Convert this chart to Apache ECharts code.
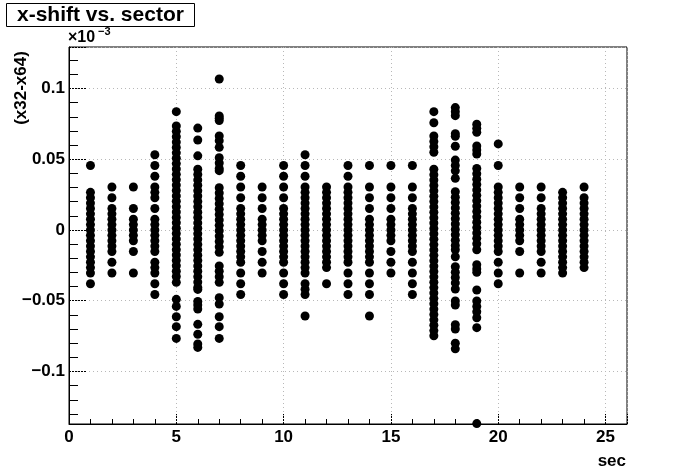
<!DOCTYPE html>
<html>
<head>
<meta charset="utf-8">
<script src="https://cdn.jsdelivr.net/npm/echarts@6.0.0/dist/echarts.min.js"></script>
<style>
html,body{margin:0;padding:0;background:#fff;}
#chart{width:696px;height:472px;}
</style>
</head>
<body>
<div id="chart"></div>
<script>
// sector numbers (x) and x-shift values (y, in units of 1e-3)
const sectors = [1,2,3,4,5,6,7,8,9,10,11,12,13,14,15,16,17,18,19,20,21,22,23,24];
const sec1 = [0.0456,0.0266,0.0228,0.019,0.0152,0.0114,0.0076,0.0038,0,-0.0038,-0.0076,-0.0114,-0.0152,-0.019,-0.0228,-0.0266,-0.0304,-0.038];
const sec2 = [0.0304,0.0228,0.0152,0.0114,0.0076,0.0038,0,-0.0038,-0.0076,-0.0114,-0.0152,-0.0228,-0.0304];
const sec3 = [0.0304,0.0152,0.0076,0.0038,0,-0.0038,-0.0076,-0.0152,-0.0304];
const sec4 = [0.0532,0.0456,0.038,0.0304,0.0266,0.0228,0.0152,0.0076,0.0038,0,-0.0038,-0.0076,-0.0114,-0.0152,-0.0228,-0.0266,-0.0304,-0.038,-0.0456];
const sec5 = [0.0836,0.0735,0.0697,0.0659,0.0621,0.0583,0.0545,0.0507,0.0469,0.0431,0.0393,0.0355,0.0317,0.0279,0.0241,0.0203,0.0165,0.0127,0.0089,0.0051,0.0013,-0.0025,-0.0063,-0.0101,-0.0139,-0.0177,-0.0215,-0.0253,-0.0291,-0.0329,-0.037,-0.049,-0.054,-0.0613,-0.0683,-0.0766];
const sec6 = [0.072,0.0636,0.0524,0.043,0.0392,0.0354,0.0316,0.0278,0.024,0.0202,0.0164,0.0126,0.0088,0.005,0.0012,-0.0026,-0.0064,-0.0102,-0.014,-0.0178,-0.0216,-0.0254,-0.0292,-0.033,-0.0368,-0.0406,-0.042,-0.0505,-0.053,-0.0558,-0.0667,-0.0737,-0.0805,-0.083];
const sec7 = [0.1067,0.0806,0.079,0.0773,0.0664,0.0631,0.0584,0.0511,0.0473,0.0435,0.0419,0.0299,0.0261,0.0223,0.0185,0.0147,0.0109,0.0071,0.0033,-0.0005,-0.0043,-0.0081,-0.0119,-0.0158,-0.0254,-0.0292,-0.033,-0.037,-0.0478,-0.0523,-0.0613,-0.0683,-0.0766];
const sec8 = [0.0456,0.038,0.0304,0.0228,0.0152,0.0114,0.0076,0.0038,0,-0.0038,-0.0076,-0.0114,-0.0152,-0.019,-0.0228,-0.0304,-0.038,-0.0456];
const sec9 = [0.0304,0.0228,0.0152,0.0076,0.0038,0,-0.0038,-0.0076,-0.0152,-0.0228,-0.0304];
const sec10 = [0.0456,0.038,0.0304,0.0228,0.0152,0.0114,0.0076,0.0038,0,-0.0038,-0.0076,-0.0114,-0.0152,-0.019,-0.0228,-0.0304,-0.038,-0.0456];
const sec11 = [0.0532,0.0456,0.038,0.0304,0.0266,0.0228,0.019,0.0152,0.0114,0.0076,0.0038,0,-0.0038,-0.0076,-0.0114,-0.0152,-0.019,-0.0228,-0.0266,-0.0304,-0.038,-0.0418,-0.0456,-0.0608];
const sec12 = [0.0304,0.0266,0.0228,0.019,0.0152,0.0114,0.0076,0.0038,0,-0.0038,-0.0076,-0.0114,-0.0152,-0.019,-0.0228,-0.0266,-0.038];
const sec13 = [0.0456,0.038,0.0304,0.0266,0.0228,0.019,0.0152,0.0114,0.0076,0.0038,0,-0.0038,-0.0076,-0.0114,-0.0152,-0.019,-0.0228,-0.0304,-0.038,-0.0456];
const sec14 = [0.0456,0.0304,0.0228,0.0152,0.0076,0.0038,0,-0.0038,-0.0076,-0.0114,-0.0152,-0.019,-0.0228,-0.0304,-0.038,-0.0456,-0.0608];
const sec15 = [0.0456,0.0304,0.0228,0.0152,0.0076,0.0038,0,-0.0038,-0.0076,-0.0152,-0.0228,-0.0304];
const sec16 = [0.0456,0.0304,0.0228,0.0152,0.0114,0.0076,0.0038,0,-0.0038,-0.0076,-0.0114,-0.0152,-0.0228,-0.0304,-0.038,-0.0456];
const sec17 = [0.0836,0.0758,0.0664,0.0626,0.0588,0.0549,0.0429,0.0391,0.0353,0.0315,0.0277,0.0239,0.0201,0.0163,0.0125,0.0087,0.0049,0.0011,-0.0027,-0.0065,-0.0103,-0.0141,-0.0179,-0.0217,-0.0255,-0.0293,-0.0331,-0.0369,-0.0407,-0.0445,-0.0483,-0.0521,-0.0559,-0.0597,-0.0635,-0.0673,-0.0711,-0.0747];
const sec18 = [0.0865,0.0836,0.0808,0.068,0.0662,0.0592,0.0494,0.0456,0.0418,0.0365,0.027,0.0232,0.0194,0.0156,0.0118,0.008,0.0042,0.0004,-0.0034,-0.0072,-0.011,-0.014,-0.0189,-0.026,-0.0298,-0.0336,-0.0374,-0.0417,-0.0502,-0.053,-0.067,-0.07,-0.08,-0.084];
const sec19 = [0.0747,0.0718,0.069,0.0594,0.0566,0.0537,0.0435,0.0397,0.0359,0.0321,0.0283,0.0245,0.0207,0.0169,0.0131,0.0093,0.0055,0.0017,-0.0021,-0.0059,-0.0097,-0.014,-0.0245,-0.0275,-0.0299,-0.0424,-0.0502,-0.054,-0.0578,-0.062,-0.069,-0.1368];
const sec20 = [0.0608,0.0456,0.0304,0.0266,0.0228,0.019,0.0152,0.0114,0.0076,0.0038,0,-0.0038,-0.0076,-0.0114,-0.0152,-0.0228,-0.0304,-0.038];
const sec21 = [0.0304,0.0228,0.0152,0.0076,0.0038,0,-0.0038,-0.0076,-0.0152,-0.0304];
const sec22 = [0.0304,0.0228,0.0152,0.0114,0.0076,0.0038,0,-0.0038,-0.0076,-0.0114,-0.0152,-0.0228,-0.0304];
const sec23 = [0.0266,0.0228,0.019,0.0152,0.0114,0.0076,0.0038,0,-0.0038,-0.0076,-0.0114,-0.0152,-0.019,-0.0228,-0.0266,-0.0304];
const sec24 = [0.0304,0.0228,0.019,0.0152,0.0114,0.0076,0.0038,0,-0.0038,-0.0076,-0.0114,-0.0152,-0.019,-0.0228,-0.0266];

const shifts = [sec1,sec2,sec3,sec4,sec5,sec6,sec7,sec8,sec9,sec10,sec11,sec12,
                sec13,sec14,sec15,sec16,sec17,sec18,sec19,sec20,sec21,sec22,sec23,sec24];

const titleText = 'x-shift vs. sector';
const xTitle = 'sec';
const yTitle = '(x32-x64)';

const points = [];
sectors.forEach((s, i) => shifts[i].forEach(v => points.push([s, v])));

const FONT = '"Liberation Sans", Arial, Helvetica, sans-serif';
const fmtNum = v => {
  const r = Math.round(v * 1000) / 1000;
  return (r < 0 ? '\u2212' : '') + String(Math.abs(r));
};

const chart = echarts.init(document.getElementById('chart'), null, {renderer: 'canvas'});
chart.setOption({
  animation: false,
  backgroundColor: '#fff',
  title: {
    text: titleText,
    left: 6, top: 3,
    padding: [2, 11, 1, 11],
    borderColor: '#000', borderWidth: 1,
    backgroundColor: '#fff',
    textStyle: {fontFamily: FONT, fontWeight: 'bold', fontSize: 21, lineHeight: 21, color: '#000'}
  },
  grid: {left: 69, top: 47, width: 558, height: 377, show: true, borderColor: '#000', borderWidth: 1, backgroundColor: '#fff'},
  xAxis: {
    type: 'value', min: 0, max: 26, interval: 5,
    axisLine: {show: true, onZero: false, lineStyle: {color: '#000', width: 1}},
    axisTick: {show: true, inside: true, length: 10, lineStyle: {color: '#000', width: 1, type: [2, 1]}},
    minorTick: {show: true, splitNumber: 5, length: 5, lineStyle: {color: '#000', width: 1}},
    splitLine: {show: true, lineStyle: {color: '#b8b8b8', width: 1, type: [1, 3]}},
    axisLabel: {show: true, showMaxLabel: false, margin: 5, color: '#000', fontFamily: FONT, fontWeight: 'bold', fontSize: 17,
      formatter: v => fmtNum(v)}
  },
  yAxis: {
    type: 'value', min: -0.1371, max: 0.1293,
    axisLine: {show: true, onZero: false, lineStyle: {color: '#000', width: 1}},
    axisTick: {show: true, inside: true, length: 17, lineStyle: {color: '#000', width: 1, type: [2, 1]}},
    minorTick: {show: true, splitNumber: 5, length: 9, lineStyle: {color: '#000', width: 1}},
    splitLine: {show: true, lineStyle: {color: '#b8b8b8', width: 1, type: [1, 3]}},
    axisLabel: {show: true, showMinLabel: false, showMaxLabel: false, margin: 4, color: '#000', fontFamily: FONT, fontWeight: 'bold', fontSize: 17,
      formatter: v => fmtNum(v)}
  },
  graphic: [
    {type: 'text', x: 21, y: 88, rotation: Math.PI / 2,
     style: {text: yTitle, align: 'center', verticalAlign: 'middle', fill: '#000', font: 'bold 17px ' + FONT}},
    {type: 'text', x: 68, y: 38,
     style: {text: '\u00d710', align: 'left', verticalAlign: 'middle', fill: '#000', font: 'bold 16px ' + FONT}},
    {type: 'text', x: 98, y: 32,
     style: {text: '\u22123', align: 'left', verticalAlign: 'middle', fill: '#000', font: 'bold 11px ' + FONT}},
    {type: 'text', x: 626, y: 461,
     style: {text: xTitle, align: 'right', verticalAlign: 'middle', fill: '#000', font: 'bold 17px ' + FONT}}
  ],
  series: [{
    type: 'scatter',
    data: points,
    symbol: 'circle',
    symbolSize: 9,
    itemStyle: {color: '#000', opacity: 1},
    clip: false
  }]
});
</script>
</body>
</html>
